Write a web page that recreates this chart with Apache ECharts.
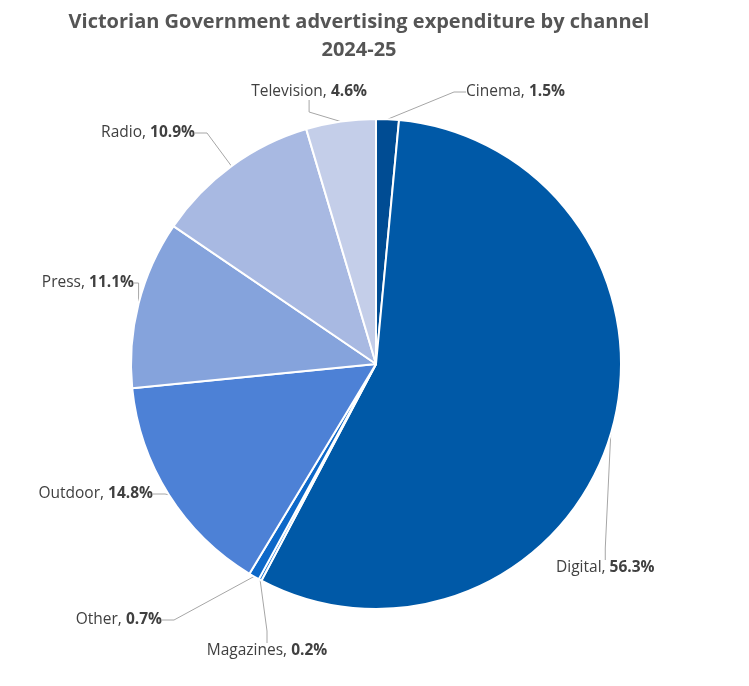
<!DOCTYPE html>
<html><head><meta charset="utf-8">
<script src="https://cdn.jsdelivr.net/npm/echarts@6/dist/echarts.min.js"></script>
<style>html,body{margin:0;padding:0;background:#fff}#c{width:749px;height:686px}</style>
</head><body><div id="c"></div>
<script>
const categories = ['Cinema','Digital','Magazines','Other','Outdoor','Press','Radio','Television'];
const values = [1.5,56.3,0.2,0.7,14.8,11.1,10.9,4.6];
const colors = ['#004c93','#0059a7','#1a74d4','#0d68c8','#4d81d6','#85a3dc','#a8b9e2','#c4cee9'];
// label anchor placement (x, y centre, alignment)
const labelPlace = [
  {x:466,y:92,align:'left'},
  {x:556,y:568,align:'left'},
  {x:267,y:651,align:'center'},
  {x:162,y:620,align:'right'},
  {x:153,y:494,align:'right'},
  {x:134,y:283,align:'right'},
  {x:195,y:133,align:'right'},
  {x:367,y:92,align:'right'}
];
const chart = echarts.init(document.getElementById('c'));
chart.setOption({
  animation:false,
  title:{text:'Victorian Government advertising expenditure by channel\n2024-25',left:354,top:3,textAlign:'center',
    textStyle:{fontFamily:'Open Sans',fontWeight:'bold',fontSize:20,color:'#555555',lineHeight:28}},
  series:[{
    type:'pie',center:[376,364],radius:[0,245],startAngle:90,clockwise:true,
    itemStyle:{borderColor:'#fff',borderWidth:2},
    data:categories.map((c,i)=>({name:c,value:values[i],itemStyle:{color:colors[i]}})),
    label:{show:true,overflow:'none',formatter:p=>'{n|'+p.name+', }{v|'+p.value.toFixed(1)+'%}',
      rich:{n:{fontFamily:'Open Sans',fontSize:15.5,color:'#404040'},v:{fontFamily:'Open Sans',fontSize:15.5,fontWeight:'bold',color:'#404040'}}},
    labelLine:{show:true,length:20,length2:12,lineStyle:{color:'#a6a6a6',width:1}},
    labelLayout:function(p){
      const l = labelPlace[p.dataIndex];
      return {x:l.x,y:l.y,align:l.align,verticalAlign:'middle'};
    }
  }]
});
</script></body></html>
